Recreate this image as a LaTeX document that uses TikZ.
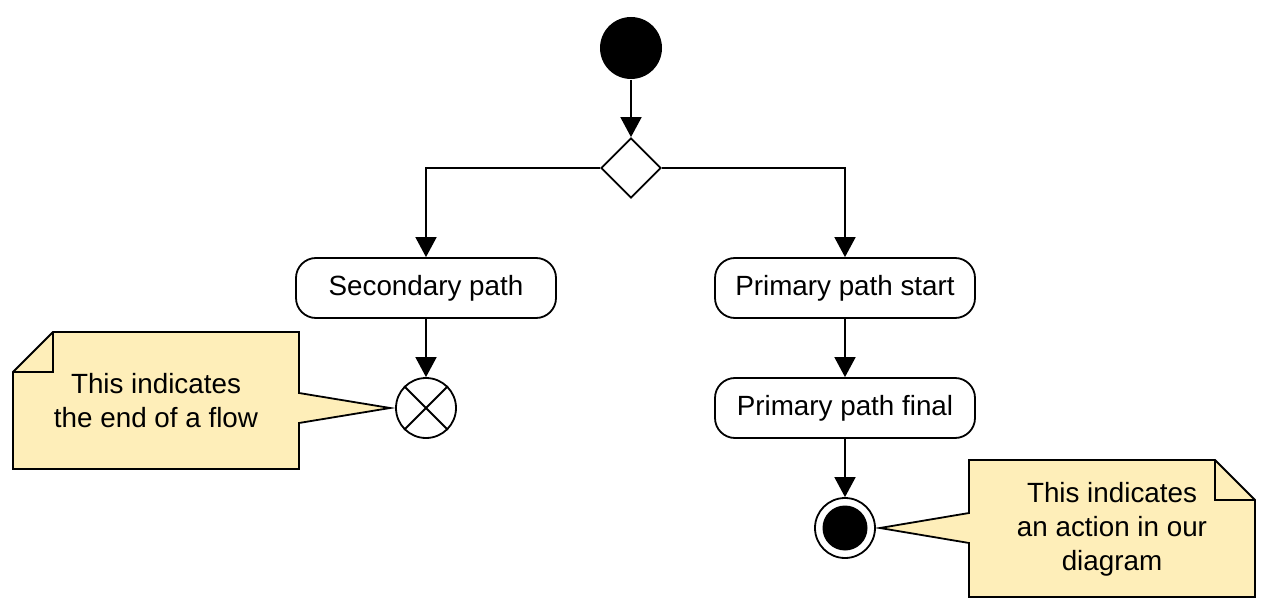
\documentclass[tikz,border=0pt]{standalone}
\usepackage{fontspec}
\setmainfont{Liberation Sans}
\usetikzlibrary{shapes.geometric,arrows.meta}
\definecolor{notefill}{RGB}{254,238,185}
\begin{document}
\begin{tikzpicture}[x=1pt,y=-1pt,
  line width=1.8pt,
  every node/.style={font=\fontsize{27.8}{34}\selectfont},
  arr/.style={draw, -{Triangle[width=21pt,length=20pt]}},
  action/.style={draw, rounded corners=20pt, minimum width=260pt, minimum height=60pt, inner sep=0pt, fill=white},
  startnode/.style={circle, fill=black, minimum size=62pt, inner sep=0pt},
  decision/.style={diamond, draw, minimum width=60pt, minimum height=60pt, inner sep=0pt, fill=white},
  notebox/.style={draw, fill=notefill, line join=miter},
  notetext/.style={align=center, inner sep=0pt}
]
\useasboundingbox (0,0) rectangle (1272,612);

\node[startnode] (start) at (631,48) {};
\node[decision] (dec) at (631,168) {};
\node[action] (sec) at (426,288) {Secondary path};
\node[action] (pstart) at (845,288) {Primary path start};
\node[action] (pfinal) at (845,408) {Primary path final};
\node[circle, draw, minimum size=60pt, inner sep=0pt] (ff) at (426,408) {};
\draw (ff.45) -- (ff.225) (ff.135) -- (ff.-45);
\node[circle, draw, minimum size=60pt, inner sep=0pt] (fin) at (845,528) {};
\node[circle, fill=black, minimum size=45pt, inner sep=0pt] (fininner) at (fin.center) {};

\draw[arr] (start) -- (dec);
\draw[arr] (dec.west) -| (sec.north);
\draw[arr] (dec.east) -| (pstart.north);
\draw[arr] (sec) -- (ff);
\draw[arr] (pstart) -- (pfinal);
\draw[arr] (pfinal) -- (fin);

% left note
\coordinate (tipL) at ([xshift=-5pt]ff.west);
\draw[notebox] (13,372) -- (53,332) -- (299,332) -- (299,393) -- (tipL) -- (299,423) -- (299,469) -- (13,469) -- cycle;
\draw[line join=miter] (13,372) -- (53,372) -- (53,332);
\node[notetext] (noteL) at (156,401) {This indicates\\the end of a flow};

% right note
\coordinate (tipR) at ([xshift=4pt]fin.east);
\draw[notebox] (969,460) -- (1215,460) -- (1255,500) -- (1255,597) -- (969,597) -- (969,543) -- (tipR) -- (969,513) -- cycle;
\draw[line join=miter] (1215,460) -- (1215,500) -- (1255,500);
\node[notetext] (noteR) at (1112,529) {This indicates\\an action in our\\diagram};
\end{tikzpicture}
\end{document}
